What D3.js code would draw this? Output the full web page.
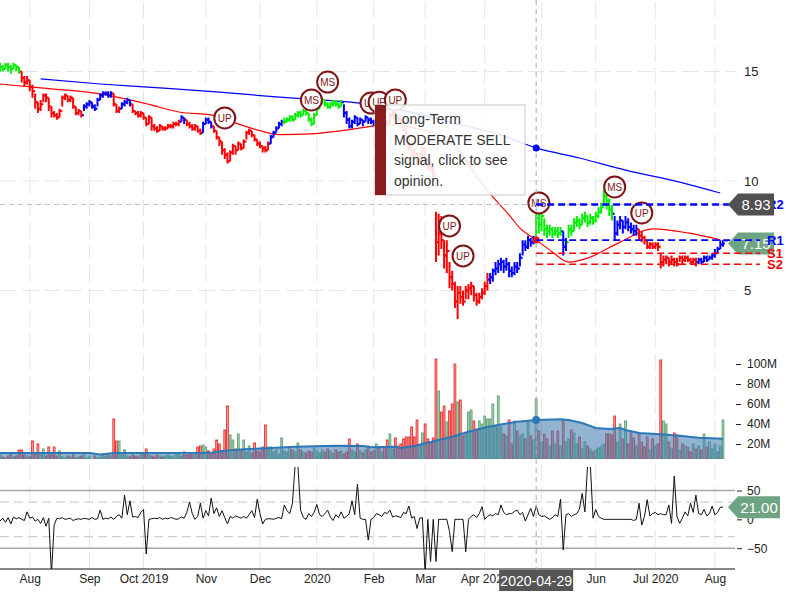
<!DOCTYPE html>
<html><head><meta charset="utf-8">
<script src="https://cdn.jsdelivr.net/npm/d3@7"></script>
<style>
body{margin:0;background:#fff;}
svg{display:block;font-family:"Liberation Sans",Arial,sans-serif;}
</style></head><body><svg id="c" width="800" height="600"></svg>
<script>
// ---------------- DATA ----------------
const startDate = "2019-07-17", endDate = "2020-08-06";
const holidays = ["2019-09-02","2019-11-28","2019-12-25","2020-01-01","2020-01-20","2020-02-17","2020-04-10","2020-05-25","2020-07-03"];
const monthLabels = ["Aug","Sep","Oct 2019","Nov","Dec","2020","Feb","Mar","Apr 2020","May","Jun","Jul 2020","Aug"];

const closes = [
15.2,15.1,15.3,15.2,15.1,15.3,15.2,15.0,14.7,14.5,
14.6,14.3,14.1,13.6,13.3,13.5,13.9,13.8,13.4,13.1,
13.0,12.9,13.2,13.8,13.9,13.7,13.8,13.4,13.1,13.2,
13.0,13.4,13.5,13.6,13.4,13.3,13.7,13.9,14.0,14.0,
13.9,14.0,13.5,13.2,13.3,13.5,13.6,13.7,13.5,13.2,
13.1,13.0,13.1,12.9,12.6,12.9,12.5,12.4,12.3,12.5,
12.4,12.4,12.5,12.5,12.6,12.6,12.7,12.9,12.8,12.6,
12.5,12.4,12.5,12.3,12.2,12.6,12.8,12.7,12.5,12.3,
12.0,11.8,11.4,11.2,10.9,11.3,11.6,11.4,11.7,11.5,
11.8,12.2,12.3,12.1,11.9,11.7,11.6,11.5,11.4,11.7,
12.0,12.2,12.4,12.6,12.7,12.7,12.8,12.9,12.8,13.0,
13.1,13.0,13.2,13.1,12.8,12.6,13.0,13.3,13.5,13.7,
13.5,13.4,13.5,13.6,13.5,13.4,13.6,13.1,12.8,12.5,
12.7,12.9,12.6,12.8,12.7,12.9,12.8,12.7,12.6,12.8,
12.6,12.8,12.7,12.6,13.0,13.1,12.9,12.8,12.7,12.4,
12.0,11.6,11.3,11.2,10.8,11.2,11.5,11.0,10.7,10.6,
10.3,7.2,7.6,7.3,6.6,6.8,5.6,5.3,4.5,4.9,
4.7,4.5,5.0,5.1,5.2,4.8,4.5,4.7,4.9,5.2,
5.5,5.6,5.9,6.0,6.2,6.3,6.1,6.2,5.9,5.8,
6.1,6.0,6.5,7.1,7.0,7.3,7.2,7.3,8.3,8.0,
8.4,7.8,7.7,7.8,7.6,7.7,7.6,7.7,7.0,7.2,
7.8,7.7,8.1,8.2,8.0,8.3,8.4,8.1,8.3,8.2,
8.4,8.6,8.8,9.3,9.1,8.7,8.5,7.6,8.0,8.2,
7.9,8.1,7.9,7.8,7.7,7.8,7.5,7.4,7.3,7.0,
7.1,7.0,7.1,7.0,6.3,6.4,6.5,6.3,6.4,6.3,
6.2,6.5,6.4,6.5,6.4,6.3,6.4,6.3,6.4,6.3,
6.5,6.4,6.5,6.6,6.7,6.9,7.1,7.15];

const highs = [
15.4,15.3,15.4,15.4,15.3,15.4,15.3,15.2,15.0,14.8,
14.8,14.6,14.4,14.0,13.6,13.7,14.0,14.0,13.8,13.4,
13.2,13.1,13.3,13.9,14.0,13.9,13.9,13.8,13.4,13.3,
13.2,13.5,13.6,13.7,13.6,13.5,13.8,14.0,14.1,14.1,
14.1,14.1,14.0,13.5,13.4,13.6,13.7,13.8,13.7,13.5,
13.2,13.2,13.2,13.1,12.9,13.0,12.9,12.6,12.5,12.6,
12.5,12.5,12.6,12.6,12.7,12.7,12.8,13.0,12.9,12.8,
12.7,12.6,12.6,12.5,12.4,12.7,12.9,12.9,12.7,12.5,
12.3,12.0,11.8,11.5,11.3,11.4,11.7,11.6,11.8,11.7,
11.9,12.3,12.4,12.3,12.1,11.9,11.8,11.6,11.6,11.8,
12.1,12.3,12.5,12.7,12.8,12.9,12.9,13.0,13.0,13.1,
13.2,13.2,13.3,13.3,13.1,12.9,13.1,13.4,13.6,13.8,
13.7,13.6,13.6,13.7,13.7,13.6,13.7,13.5,13.2,12.9,
12.8,13.0,12.9,12.9,12.8,13.0,12.9,12.9,12.8,12.9,
12.8,12.9,12.9,12.8,13.1,13.2,13.1,13.0,12.9,12.8,
12.4,12.0,11.7,11.5,11.3,11.3,11.6,11.5,11.1,10.9,
10.7,8.6,8.5,8.4,7.3,7.3,6.3,5.9,5.4,5.2,
5.2,5.0,5.2,5.3,5.4,5.2,4.9,4.9,5.1,5.4,
5.8,5.8,6.0,6.3,6.4,6.5,6.4,6.5,6.3,6.1,
6.3,6.3,6.7,7.3,7.3,7.5,7.4,7.5,9.0,8.7,
8.7,8.3,8.0,8.0,7.9,7.9,7.9,7.9,7.7,7.4,
8.0,8.0,8.3,8.4,8.3,8.5,8.6,8.4,8.5,8.4,
8.6,8.8,9.0,9.6,9.5,9.2,8.9,8.4,8.2,8.4,
8.2,8.4,8.3,8.1,8.0,8.0,7.8,7.7,7.5,7.3,
7.2,7.2,7.2,7.2,6.7,6.6,6.6,6.5,6.6,6.5,
6.5,6.6,6.6,6.6,6.6,6.5,6.5,6.5,6.5,6.5,
6.6,6.6,6.6,6.7,6.9,7.0,7.3,7.3];

const lows = [
15.0,15.0,15.1,15.0,14.9,15.1,15.0,14.9,14.5,14.3,
14.4,14.1,13.8,13.3,13.1,13.2,13.6,13.6,13.2,12.9,
12.9,12.8,12.9,13.4,13.7,13.6,13.6,13.3,13.0,13.0,
12.9,13.2,13.3,13.4,13.3,13.2,13.4,13.7,13.8,13.9,
13.8,13.8,13.4,13.1,13.1,13.3,13.4,13.5,13.4,13.1,
13.0,12.9,12.9,12.8,12.5,12.6,12.3,12.3,12.2,12.3,
12.3,12.3,12.4,12.4,12.4,12.5,12.5,12.7,12.6,12.5,
12.4,12.3,12.3,12.2,12.1,12.2,12.6,12.6,12.4,12.2,
11.9,11.6,11.2,11.0,10.8,10.9,11.2,11.2,11.4,11.4,
11.5,11.9,12.1,12.0,11.8,11.6,11.5,11.3,11.3,11.4,
11.7,12.0,12.2,12.4,12.5,12.6,12.7,12.7,12.7,12.8,
12.9,12.9,13.0,13.0,12.7,12.5,12.6,13.0,13.3,13.5,
13.4,13.3,13.3,13.4,13.4,13.3,13.4,12.9,12.6,12.4,
12.4,12.6,12.5,12.6,12.5,12.7,12.6,12.6,12.5,12.6,
12.5,12.6,12.6,12.5,12.6,12.9,12.8,12.7,12.6,12.3,
11.8,11.4,11.1,11.0,10.7,10.8,11.1,10.9,10.5,10.4,
10.0,6.3,6.6,6.9,6.0,5.8,5.1,5.0,4.2,3.7,
4.4,4.3,4.6,4.6,4.8,4.5,4.3,4.4,4.6,4.8,
5.0,5.3,5.4,5.7,5.8,5.9,5.8,5.9,5.6,5.6,
5.7,5.8,6.1,6.6,6.8,6.9,7.0,7.1,7.3,7.6,
7.7,7.5,7.4,7.5,7.4,7.5,7.4,7.5,6.6,6.8,
7.4,7.5,7.7,7.9,7.8,8.0,8.1,7.9,8.0,8.0,
8.1,8.3,8.5,8.9,8.7,8.4,8.2,7.3,7.5,7.8,
7.6,7.8,7.7,7.6,7.5,7.5,7.3,7.2,7.1,6.9,
6.9,6.9,6.9,6.8,6.0,6.1,6.2,6.1,6.2,6.1,
6.1,6.3,6.2,6.3,6.3,6.2,6.2,6.1,6.2,6.2,
6.3,6.3,6.4,6.4,6.5,6.7,6.9,7.0];

// trend colouring: [first bar index, state]
const trendSegments = [[0,"bull"],[8,"bear"],[31,"neutral"],[42,"bear"],[45,"neutral"],[49,"bear"],[67,"neutral"],[69,"bear"],[75,"neutral"],[79,"bear"],[100,"neutral"],[105,"bull"],[127,"neutral"],[139,"bear"],[181,"neutral"],[198,"bull"],[208,"neutral"],[210,"bull"],[227,"neutral"],[236,"bear"],[258,"neutral"]];

// volume in millions
const volumes = [
9,7,6,8,10,7,8,14,14,9,
8,7,23,10,20,9,15,8,17,9,
17,8,13,7,6,8,7,11,6,7,
8,11,6,7,5,8,6,7,9,8,
10,8,45,23,23,9,14,8,7,9,
8,7,9,10,15,9,8,7,9,8,
7,8,9,8,7,9,10,8,12,9,
10,9,11,17,18,19,17,13,10,15,
24,20,12,34,58,29,24,15,30,14,
24,12,18,11,21,13,12,17,39,17,
17,12,14,10,26,13,12,16,14,12,
21,14,12,11,13,12,16,13,11,14,
12,15,13,11,14,12,13,10,12,25,
14,12,20,13,11,14,18,12,13,20,
17,12,17,24,30,15,26,18,20,25,
27,27,37,27,44,18,31,40,25,22,
26,105,73,52,58,42,53,60,100,62,
64,28,30,52,54,43,35,43,40,48,
45,45,60,38,68,37,30,28,44,20,
43,33,28,30,25,42,28,24,65,33,
22,30,25,18,33,20,33,18,44,22,
25,34,31,20,27,15,22,18,15,12,
14,16,18,20,30,30,29,48,22,40,
25,43,20,31,26,18,31,22,17,27,
14,25,18,20,104,43,40,22,16,31,
29,14,20,18,17,12,20,15,18,14,
30,17,22,15,20,12,18,44];

// volume moving average [bar index, millions]
const volumeAvg = [[0,11],[33,11],[37,9.5],[42,11],[78,11.3],[82,13],[90,14.7],[100,16],[109,17.3],[124,18.3],[134,18],[137,16.7],[146,17.3],[148,16],[153,18],[162,24],[167,27.3],[173,32.3],[180,37],[186,40],[191,42.3],[198,44],[207,44.7],[210,44],[215,41],[220,36],[225,35],[229,36],[231,34],[236,31],[244,29.7],[251,28.3],[258,26.3],[267,25.3]];

// oscillator
const cci = [
-3,2,-5,3,-8,4,1,3,0,-2,
13,2,4,-3,0,-7,3,-12,2,-95,
-10,2,1,3,0,1,2,-2,0,1,
0,2,1,0,3,0,1,16,0,2,
1,4,0,5,8,2,42,8,32,4,
5,3,12,17,-60,0,1,2,1,3,
0,2,1,3,2,0,1,4,2,12,
30,10,0,5,28,2,15,6,37,10,
20,5,15,3,-8,5,2,6,4,2,
5,2,8,15,3,35,10,-8,0,1,
1,0,2,3,1,25,15,10,28,95,
95,16,3,0,10,5,12,26,8,5,
10,16,4,-2,8,3,13,2,5,10,
32,8,61,2,0,0,-36,0,3,10,
8,5,12,10,16,4,6,5,3,12,
10,23,2,5,-16,2,3,-95,0,-73,
0,-73,0,0,0,0,-21,-56,0,0,
0,0,-56,0,5,8,3,10,22,0,
5,8,6,10,8,25,12,8,10,10,
14,16,8,12,-3,8,19,5,23,8,
5,6,3,0,3,8,5,35,-53,8,
10,5,8,10,18,45,13,95,95,2,
17,5,2,0,0,0,0,0,0,0,
0,0,0,0,-2,0,28,-10,5,34,
6,10,12,8,10,8,8,25,-7,75,
5,-7,2,13,6,28,12,42,10,8,
17,6,10,23,8,12,21,21];

// moving averages on price [bar index, value]
const maShort = [[0,14.43],[15,14.25],[37,13.98],[55,13.5],[66,13.15],[79,13.0],[86,12.69],[96,12.3],[103,12.12],[115,12.15],[125,12.28],[136,12.48],[142,12.6],[151,12.47],[159,12.24],[165,12.0],[172,10.96],[177,10.05],[182,9.27],[188,8.45],[192,7.85],[198,7.31],[204,6.76],[210,6.30],[217,6.48],[229,7.21],[241,7.81],[254,7.63],[266,7.31]];
const maLong = [[15,14.66],[37,14.43],[59,14.25],[81,14.06],[102,13.84],[118,13.70],[133,13.56],[148,13.24],[166,12.69],[185,12.10],[198,11.51],[214,11.05],[231,10.50],[251,9.95],[266,9.45]];

// signal markers [bar index, price, label]
const signals = [[83,12.88,"UP"],[115,13.7,"MS"],[121,14.52,"MS"],[137,13.56,"UP"],[140,13.6,"UP"],[146,13.7,"UP"],[166,7.95,"UP"],[171,6.58,"UP"],[199,9.0,"MS"],[227,9.73,"MS"],[237,8.54,"UP"]];

// support / resistance
const levelNames = ["R2","R1","S1","S2"];
const levelValues = [8.93,7.3,6.7,6.2];
const levelKinds = ["res","res","sup","sup"];

const priceTicks = [5,10,15];
const volumeTicks = [20,40,60,80,100];
const cciTicks = [-50,0,50];
const cciSolid = [-50,50];
const cciDashed = [-30,30];

const cursorIndex = 198;
const cursorPrice = 8.93;
const lastPrice = 7.15;
const lastCci = 21.00;
const tooltipLines = ["Long-Term","MODERATE SELL","signal, click to see","opinion."];

// ---------------- CHART ----------------
const svg = d3.select("#c");
const hol = new Set(holidays);
const dates = [];
for (let t = Date.parse(startDate+"T00:00:00Z"); t <= Date.parse(endDate+"T00:00:00Z"); t += 864e5) {
  const d = new Date(t), wd = d.getUTCDay(), s = d.toISOString().slice(0,10);
  if (wd !== 0 && wd !== 6 && !hol.has(s)) dates.push(d);
}
const monthStarts = d3.range(1, dates.length).filter(i => dates[i].getUTCMonth() !== dates[i-1].getUTCMonth());
const fmtDate = d3.utcFormat("%Y-%m-%d");

const plotRight = 735;
const x = d3.scaleLinear().domain([0, dates.length-1]).range([0, 723]);
const yP = d3.scaleLinear().domain([5,15]).range([290.5,71.5]);
const yV = d3.scaleLinear().domain([0,100]).range([464,364]);
const volBase = 459;
const yC = d3.scaleLinear().domain([-50,50]).range([548.2,490.5]);

const stateColor = {bull:"#00f000", bear:"#ff0000", neutral:"#0000ff"};
function stateOf(i){ let s = trendSegments[0][1]; for (const [k,v] of trendSegments) if (i >= k) s = v; return s; }
const isUp = i => closes[i] >= (i>0 ? closes[i-1] : closes[i]);

const defs = svg.append("defs");
defs.append("clipPath").attr("id","clipP").append("rect").attr("x",0).attr("y",0).attr("width",plotRight).attr("height",335);
defs.append("clipPath").attr("id","clipV").append("rect").attr("x",0).attr("y",340).attr("width",plotRight).attr("height",volBase-340);
defs.append("clipPath").attr("id","clipC").append("rect").attr("x",0).attr("y",467).attr("width",plotRight).attr("height",102);

// grid
const grid = svg.append("g");
grid.selectAll("line.v").data(monthStarts).join("line")
  .attr("x1",d=>x(d)).attr("x2",d=>x(d)).attr("y1",2).attr("y2",568)
  .attr("stroke","#e6e6e6").attr("stroke-dasharray","16,6");
grid.selectAll("line.h").data(priceTicks).join("line")
  .attr("x1",0).attr("x2",plotRight).attr("y1",d=>yP(d)).attr("y2",d=>yP(d))
  .attr("stroke","#e6e6e6").attr("stroke-dasharray","16,6");

// volume
const gV = svg.append("g").attr("clip-path","url(#clipV)");
gV.selectAll("rect").data(volumes).join("rect")
  .attr("x",(d,i)=>x(i)-0.9).attr("width",1.8)
  .attr("y",d=>yV(d)).attr("height",d=>Math.max(0, volBase - yV(d)))
  .attr("fill",(d,i)=>isUp(i)?"#a8d6b4":"#f7a8a8")
  .attr("stroke",(d,i)=>isUp(i)?"#5e9f74":"#ee2a2a").attr("stroke-width",0.9);
gV.append("path").datum(volumeAvg)
  .attr("d", d3.area().x(d=>x(d[0])).y0(volBase).y1(d=>yV(d[1])))
  .attr("fill","#4682b4").attr("opacity",0.6);
gV.append("path").datum(volumeAvg)
  .attr("d", d3.line().x(d=>x(d[0])).y(d=>yV(d[1])))
  .attr("fill","none").attr("stroke","#2a78b8").attr("stroke-width",2);

// oscillator
const gC = svg.append("g");
gC.selectAll("line.s").data(cciSolid).join("line")
  .attr("x1",0).attr("x2",plotRight).attr("y1",d=>yC(d)).attr("y2",d=>yC(d))
  .attr("stroke","#a8a8a8").attr("stroke-width",1.5);
gC.selectAll("line.d").data(cciDashed).join("line")
  .attr("x1",0).attr("x2",plotRight).attr("y1",d=>yC(d)).attr("y2",d=>yC(d))
  .attr("stroke","#cfcfcf").attr("stroke-width",1.2).attr("stroke-dasharray","9,5");
gC.append("path").datum(cci).attr("clip-path","url(#clipC)")
  .attr("d", d3.line().x((d,i)=>x(i)).y(d=>yC(d)))
  .attr("fill","none").attr("stroke","#111").attr("stroke-width",1);

// price
const gP = svg.append("g").attr("clip-path","url(#clipP)");
gP.append("path").datum(maLong).attr("d", d3.line().x(d=>x(d[0])).y(d=>yP(d[1])).curve(d3.curveMonotoneX))
  .attr("fill","none").attr("stroke","#0000ff").attr("stroke-width",1.2);
gP.append("path").datum(maShort).attr("d", d3.line().x(d=>x(d[0])).y(d=>yP(d[1])).curve(d3.curveMonotoneX))
  .attr("fill","none").attr("stroke","#ff0000").attr("stroke-width",1.2);
gP.selectAll("path.bar").data(closes).join("path")
  .attr("d",(c,i)=>{
    const xi = x(i), o = i>0 ? closes[i-1] : c;
    return `M${xi},${yP(highs[i])}V${yP(lows[i])}M${xi-1.8},${yP(o)}H${xi}M${xi},${yP(c)}H${xi+1.8}`;
  })
  .attr("fill","none").attr("stroke",(c,i)=>stateColor[stateOf(i)]).attr("stroke-width",2);

// signal markers
const gS = svg.append("g");
signals.forEach(s => {
  const g = gS.append("g").attr("transform",`translate(${x(s[0])},${yP(s[1])})`);
  g.append("circle").attr("r",10.5).attr("fill","#fff").attr("stroke","#7f1416").attr("stroke-width",2);
  g.append("text").attr("text-anchor","middle").attr("dy","0.36em").attr("font-size",10).attr("fill","#7f1416").text(s[2]);
});

// axes
const axP = svg.append("g").attr("transform","translate(744,0)")
  .call(d3.axisRight(yP).tickValues(priceTicks).tickSize(0).tickPadding(0));
const axV = svg.append("g").attr("transform","translate(736,0)")
  .call(d3.axisRight(yV).tickValues(volumeTicks).tickSize(5).tickPadding(6).tickFormat(d=>d+"M"));
const axC = svg.append("g").attr("transform","translate(737,0)")
  .call(d3.axisRight(yC).tickValues(cciTicks).tickSize(5).tickPadding(5));
const axX = svg.append("g").attr("transform","translate(0,569)")
  .call(d3.axisBottom(x).tickValues(monthStarts).tickFormat((d,i)=>monthLabels[i]).tickSize(0).tickPadding(5));
[axP,axV,axC,axX].forEach(a=>{
  a.attr("font-family",null).attr("font-size",12);
  a.select(".domain").remove();
  a.selectAll(".tick line").attr("stroke","#222");
  a.selectAll("text").attr("fill","#222");
});
axP.attr("font-size",13);
svg.append("line").attr("x1",0).attr("x2",plotRight).attr("y1",569).attr("y2",569).attr("stroke","#111").attr("stroke-width",1);

// crosshair
const cx = x(cursorIndex);
svg.append("line").attr("x1",cx).attr("x2",cx).attr("y1",0).attr("y2",570)
  .attr("stroke","#aaa").attr("stroke-dasharray","5,4");
svg.append("line").attr("x1",0).attr("x2",728).attr("y1",yP(cursorPrice)).attr("y2",yP(cursorPrice))
  .attr("stroke","#bbb").attr("stroke-dasharray","5,4");
function valueAt(arr, i){ return d3.scaleLinear().domain(arr.map(d=>d[0])).range(arr.map(d=>d[1]))(i); }
svg.append("circle").attr("cx",cx).attr("cy",yP(valueAt(maShort,cursorIndex))).attr("r",3.5).attr("fill","#ff0000");
svg.append("circle").attr("cx",cx).attr("cy",yP(valueAt(maLong,cursorIndex))).attr("r",3.5).attr("fill","#0000ff");
svg.append("circle").attr("cx",cx).attr("cy",yV(valueAt(volumeAvg,cursorIndex))).attr("r",4).attr("fill","#2a78b8");

// value flag helper
function flag(yc, txt, fill, w){
  const g = svg.append("g");
  g.append("path").attr("d",`M728,${yc}L738,${yc-11}H${738+w}V${yc+11}H738Z`).attr("fill",fill);
  g.append("text").attr("x",738+w/2).attr("y",yc).attr("dy","0.36em").attr("text-anchor","middle")
    .attr("font-size",15).attr("fill","#fff").text(txt);
  return g;
}

// last price flag
svg.append("line").attr("x1",x(closes.length-1)).attr("x2",728).attr("y1",yP(lastPrice)-2).attr("y2",yP(lastPrice)-2).attr("stroke","#999");
flag(yP(lastPrice), d3.format(".2f")(lastPrice), "#6ea482", 36);

// levels
const gL = svg.append("g");
levelValues.forEach((v,k)=>{
  const col = levelKinds[k]==="res" ? "#0000ff" : "#ff0000";
  gL.append("line").attr("x1",cx).attr("x2",760).attr("y1",yP(v)).attr("y2",yP(v))
    .attr("stroke",col).attr("stroke-width",k===0?2.5:1.6).attr("stroke-dasharray","7,4");
  gL.append("text").attr("x",767).attr("y",yP(v)).attr("dy","0.36em").attr("font-size",13).attr("font-weight","bold")
    .attr("fill",col).text(levelNames[k]);
});
flag(yP(cursorPrice), d3.format(".2f")(cursorPrice), "#505050", 36);

// oscillator flag
flag(yC(lastCci), d3.format(".2f")(lastCci), "#6ea482", 42);

// cursor date
const dl = svg.append("g");
dl.append("rect").attr("x",cx-37).attr("y",570).attr("width",74).attr("height",21).attr("fill","#555");
dl.append("text").attr("x",cx).attr("y",581).attr("dy","0.36em").attr("text-anchor","middle")
  .attr("font-size",14).attr("fill","#fff").text(fmtDate(dates[cursorIndex]));

// tooltip
const tt = svg.append("g").attr("transform","translate(375,105)");
tt.append("rect").attr("width",150).attr("height",90).attr("fill","#fff").attr("fill-opacity",0.88).attr("stroke","#c8c8c8");
tt.append("rect").attr("width",11).attr("height",90).attr("fill","#8b1c1c");
tt.selectAll("text").data(tooltipLines).join("text")
  .attr("x",19).attr("y",(d,i)=>19+i*20.5).attr("font-size",14).attr("fill","#333").text(d=>d);
</script></body></html>
